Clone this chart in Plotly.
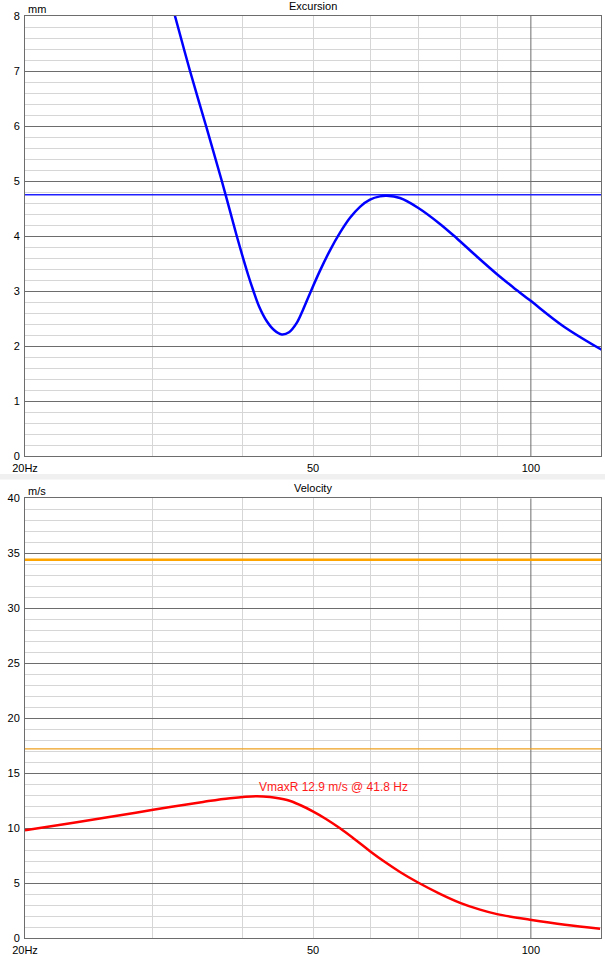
import math
import plotly.graph_objects as go

# ---------------- data ----------------
FREQ_EXC = [31.5, 32.23, 33.81, 35.58, 37.41, 39.23, 40.66, 41.37, 42.12, 43.17, 44.17,
            45.27, 46.33, 47.48, 48.44, 49.53, 51.13, 52.78, 54.49, 56.25, 58.06, 59.94,
            61.87, 63.21, 65.94, 69.91, 74.89, 78.98, 84.0, 89.71, 94.48, 99.73, 110.87,
            125.3]
EXC_MM = [8.48, 8.0, 7.0, 6.0, 5.0, 4.0, 3.3, 3.0, 2.72, 2.45, 2.29,
          2.21, 2.25, 2.42, 2.66, 2.96, 3.37, 3.74, 4.06, 4.33, 4.53, 4.66,
          4.72, 4.73, 4.69, 4.51, 4.22, 3.96, 3.64, 3.31, 3.07, 2.83, 2.36,
          1.93]
EXC_LIMIT_MM = 4.75

FREQ_VEL = [20.0, 22.64, 25.63, 30.07, 35.24, 38.40, 41.8, 43.62, 46.04, 47.98, 50.05,
            52.11, 54.49, 57.15, 59.94, 62.87, 65.94, 69.84, 74.89, 79.83, 85.07, 89.79,
            99.73, 111.47, 124.63]
VEL_MS = [9.8, 10.35, 10.92, 11.66, 12.38, 12.72, 12.9, 12.82, 12.55, 12.1, 11.5,
          10.83, 9.98, 8.96, 7.9, 6.91, 6.01, 5.05, 4.02, 3.2, 2.58, 2.17,
          1.66, 1.2, 0.85]
VEL_LIMIT = 34.4
VEL_LIMIT_HALF = 17.2
VMAX_FREQ = 41.8
VMAX_VEL = 12.9
VMAX_TEXT = "VmaxR 12.9 m/s @ 41.8 Hz"

X_RANGE = [20, 125]
X_TICKS = [20, 50, 100]
X_TICK_TEXT = ["20Hz", "50", "100"]
X_MINOR_GRID = [30, 40, 50, 60, 70, 80, 90]
X_DARK_GRID = [100]

EXC_RANGE = [0, 8]
VEL_RANGE = [0, 40]

# ---------------- layout constants ----------------
W, H = 605, 956
ML, MR, MT, MB = 25, 4, 16, 18
PW = W - ML - MR
PH = H - MT - MB

DARK = "#6d6d6d"
LIGHT = "#d6d6d6"
FONT = "Liberation Sans, Arial, sans-serif"


def py(pix):
    """pixel y (from top of page) -> paper fraction"""
    return (H - MB - pix) / PH


fig = go.Figure()

# dark vertical grid at 100 Hz (both panels)
for xa, ya, rng in (("x", "y", EXC_RANGE), ("x2", "y2", VEL_RANGE)):
    for f in X_DARK_GRID:
        fig.add_trace(go.Scatter(x=[f, f], y=rng, mode="lines", xaxis=xa, yaxis=ya,
                                 line=dict(color=DARK, width=1), hoverinfo="skip",
                                 showlegend=False))

# Excursion panel
fig.add_trace(go.Scatter(x=X_RANGE, y=[EXC_LIMIT_MM] * 2, mode="lines",
                         line=dict(color="#2020ff", width=1.5), xaxis="x", yaxis="y",
                         showlegend=False, hoverinfo="skip"))
fig.add_trace(go.Scatter(x=FREQ_EXC, y=EXC_MM, mode="lines",
                         line=dict(color="#0000ff", width=2.5, shape="spline", smoothing=1.0),
                         xaxis="x", yaxis="y", showlegend=False))

# Velocity panel
fig.add_trace(go.Scatter(x=X_RANGE, y=[VEL_LIMIT] * 2, mode="lines",
                         line=dict(color="#ffa500", width=2.5), xaxis="x2", yaxis="y2",
                         showlegend=False, hoverinfo="skip"))
fig.add_trace(go.Scatter(x=X_RANGE, y=[VEL_LIMIT_HALF] * 2, mode="lines",
                         line=dict(color="#eea020", width=1.3), xaxis="x2", yaxis="y2",
                         showlegend=False, hoverinfo="skip"))
fig.add_trace(go.Scatter(x=FREQ_VEL, y=VEL_MS, mode="lines",
                         line=dict(color="#ff0000", width=2.5, shape="spline", smoothing=1.0),
                         xaxis="x2", yaxis="y2", showlegend=False))

xaxis_common = dict(
    type="log", range=[math.log10(X_RANGE[0]), math.log10(X_RANGE[1])],
    tickmode="array", tickvals=X_TICKS, ticktext=X_TICK_TEXT,
    showgrid=False, zeroline=False, showline=True, mirror=True, automargin=False,
    linecolor=DARK, linewidth=1, ticks="", ticklabelstandoff=2,
    tickfont=dict(family=FONT, size=11, color="black"),
    minor=dict(tickmode="array", tickvals=X_MINOR_GRID, showgrid=True,
               gridcolor=LIGHT, gridwidth=1, ticks=""),
)

yaxis_common = dict(
    showgrid=True, gridcolor=DARK, gridwidth=1, zeroline=False, automargin=False,
    showline=True, mirror=True, linecolor=DARK, linewidth=1, ticks="",
    ticklabelstandoff=2,
    tickfont=dict(family=FONT, size=11, color="black"),
)

top_bottom_px = 456
bot_top_px = 498.3

fig.update_layout(
    width=W, height=H, autosize=False,
    margin=dict(l=ML, r=MR, t=MT, b=MB, pad=0, autoexpand=False),
    paper_bgcolor="white", plot_bgcolor="white",
    hovermode=False,
    xaxis=dict(anchor="y", domain=[0, 1], **xaxis_common),
    xaxis2=dict(anchor="y2", domain=[0, 1], **xaxis_common),
    yaxis=dict(anchor="x", domain=[py(top_bottom_px), 1], range=EXC_RANGE, dtick=1,
               minor=dict(dtick=0.2, showgrid=True, gridcolor=LIGHT, gridwidth=1, ticks=""),
               **yaxis_common),
    yaxis2=dict(anchor="x2", domain=[0, py(bot_top_px)], range=VEL_RANGE, dtick=5,
                minor=dict(dtick=1, showgrid=True, gridcolor=LIGHT, gridwidth=1, ticks=""),
                **yaxis_common),
    font=dict(family=FONT, size=11, color="black"),
)

# grey separator band between the two charts
fig.add_shape(type="rect", xref="paper", yref="paper",
              x0=-ML / PW, x1=1 + MR / PW, y0=py(479.5), y1=py(474),
              fillcolor="#f0f0f0", line=dict(width=0), layer="below")

# titles and unit labels
fig.add_annotation(text="Excursion", xref="paper", yref="paper", x=0.5, y=py(6),
                   xanchor="center", yanchor="middle", showarrow=False,
                   font=dict(family=FONT, size=11, color="black"))
fig.add_annotation(text="Velocity", xref="paper", yref="paper", x=0.5, y=py(488),
                   xanchor="center", yanchor="middle", showarrow=False,
                   font=dict(family=FONT, size=11, color="black"))
fig.add_annotation(text="mm", xref="paper", yref="paper", x=1 / PW, y=py(9),
                   xanchor="left", yanchor="middle", showarrow=False,
                   font=dict(family=FONT, size=11, color="black"))
fig.add_annotation(text="m/s", xref="paper", yref="paper", x=1 / PW, y=py(491),
                   xanchor="left", yanchor="middle", showarrow=False,
                   font=dict(family=FONT, size=11, color="black"))

# Vmax annotation
fig.add_annotation(text=VMAX_TEXT, xref="x2", yref="y2",
                   x=math.log10(VMAX_FREQ), y=VMAX_VEL,
                   xanchor="left", yanchor="bottom", showarrow=False,
                   font=dict(family=FONT, size=12, color="#ff1a1a"))

fig.write_html(
    "out.html",
    config={"responsive": False, "displayModeBar": False},
    post_script="document.body.style.margin='0';document.body.style.padding='0';"
                "document.body.style.overflow='hidden';",
)
